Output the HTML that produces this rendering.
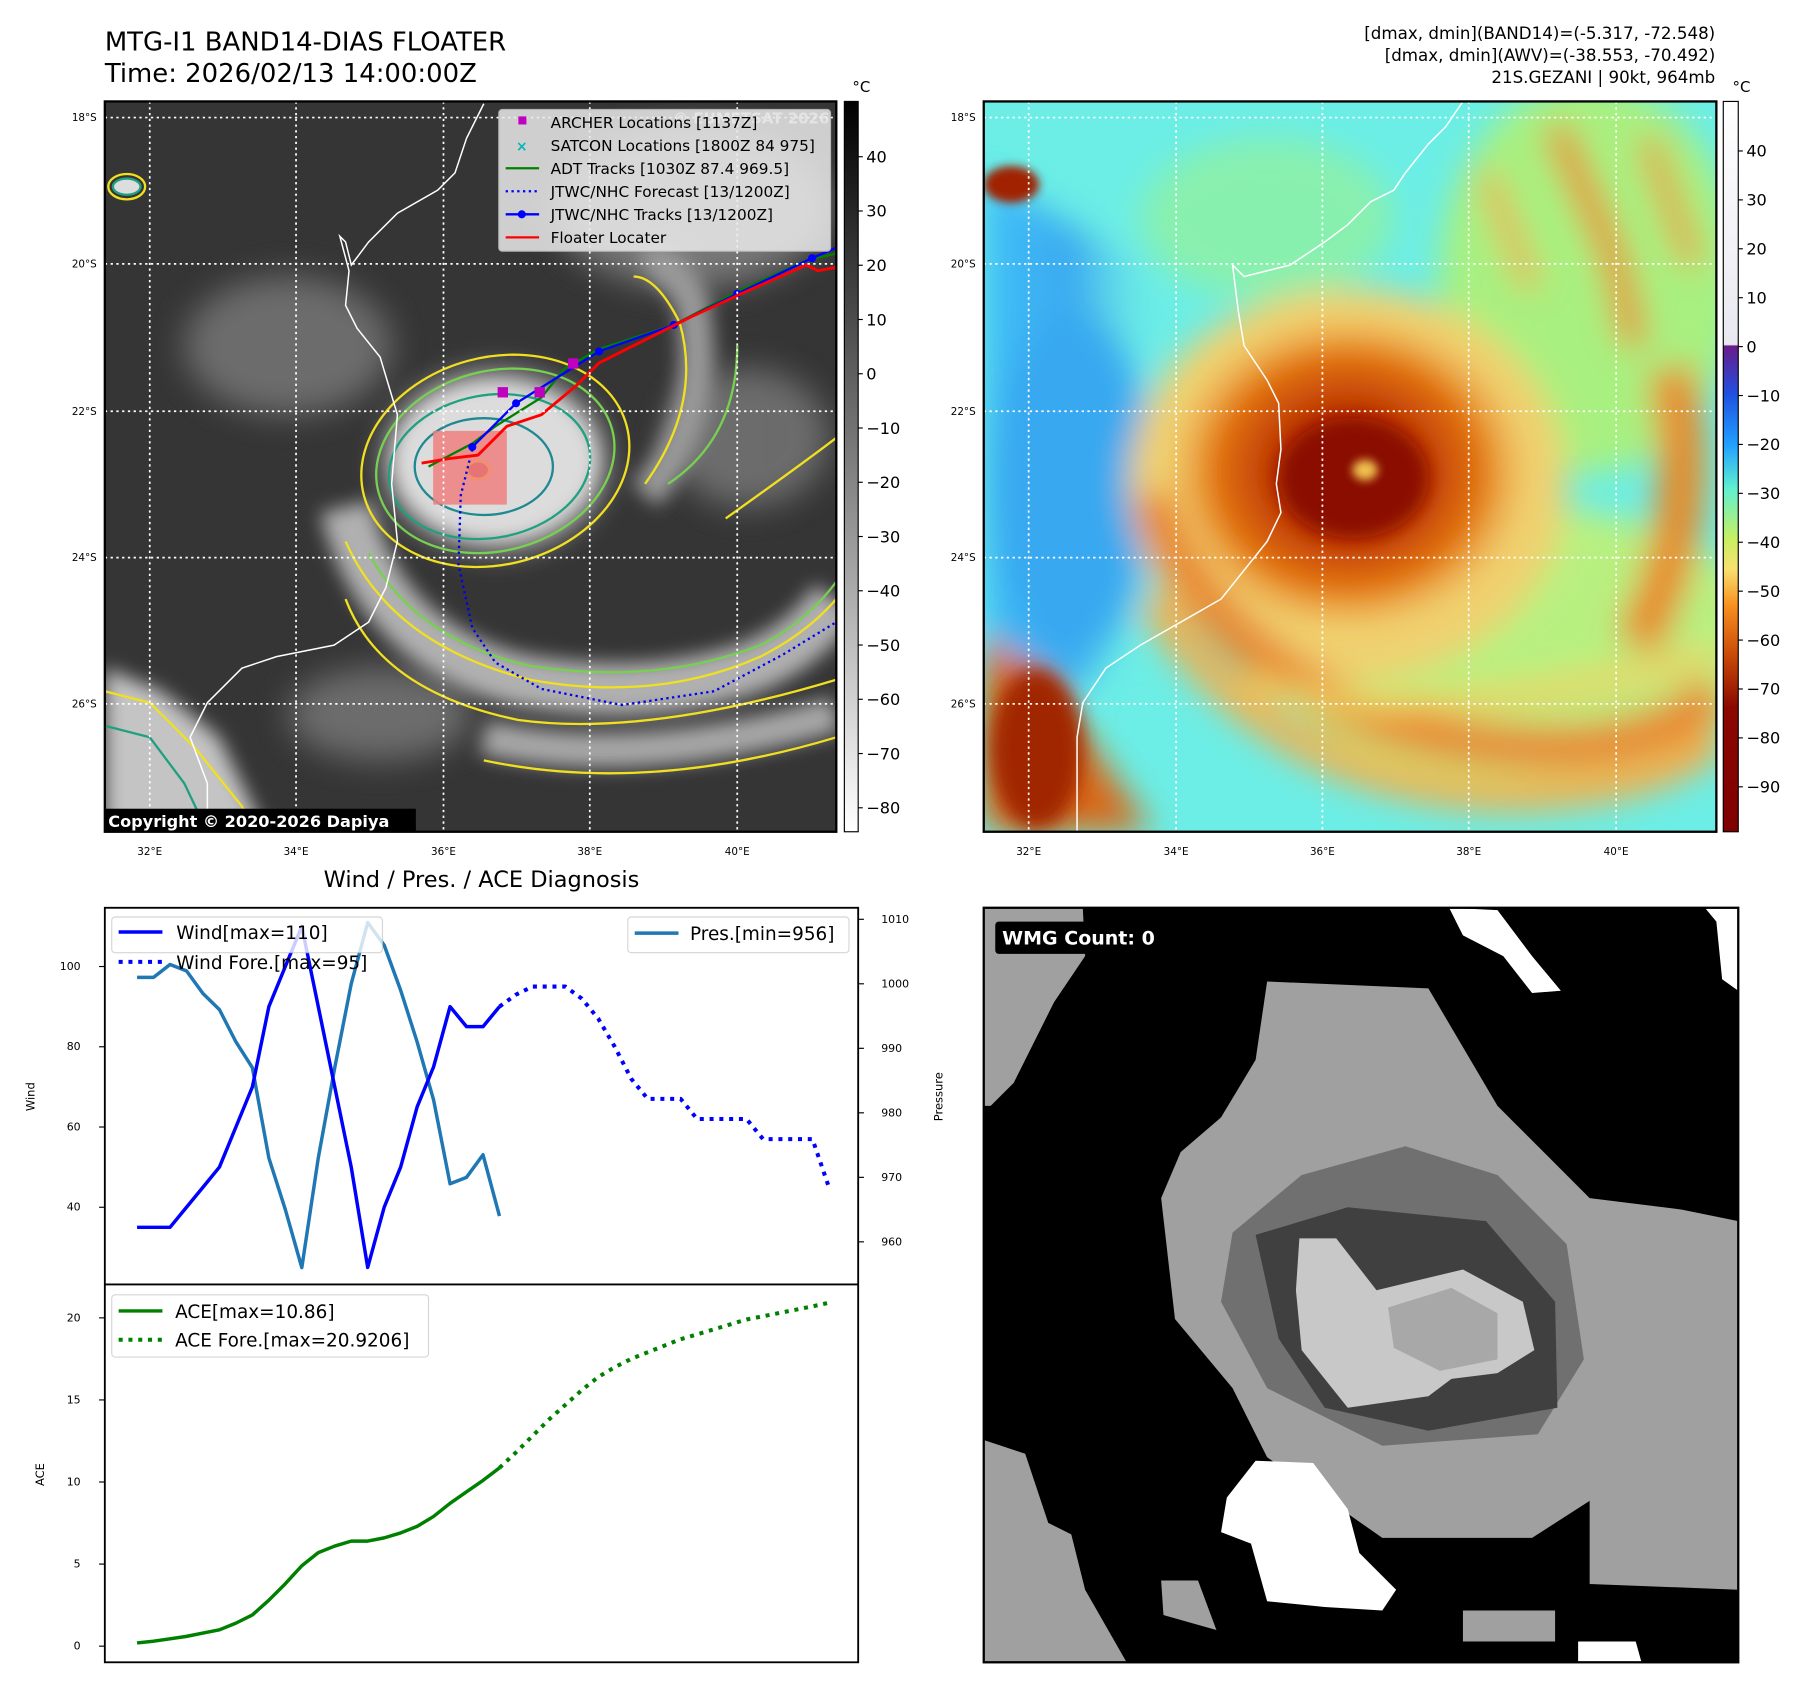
<!DOCTYPE html>
<html><head><meta charset="utf-8"><style>
html,body{margin:0;padding:0;background:#fff;}
svg{display:block;font-family:"DejaVu Sans","Liberation Sans",sans-serif;}
</style></head><body>
<svg id="fig" width="1797" height="1690" viewBox="0 0 1560 1467" xmlns="http://www.w3.org/2000/svg">
<defs>
<filter id="b8" x="-50%" y="-50%" width="200%" height="200%"><feGaussianBlur stdDeviation="8"/></filter>
<filter id="b4" x="-50%" y="-50%" width="200%" height="200%"><feGaussianBlur stdDeviation="4"/></filter>
<filter id="b14" x="-50%" y="-50%" width="200%" height="200%"><feGaussianBlur stdDeviation="14"/></filter>
<clipPath id="cL"><rect x="91" y="88" width="635" height="634"/></clipPath>
<clipPath id="cR"><rect x="854" y="88" width="636" height="634"/></clipPath>
<clipPath id="cW"><rect x="854" y="788" width="655" height="655"/></clipPath>
<linearGradient id="gcb1" x1="0" y1="0" x2="0" y2="1"><stop offset="0" stop-color="#000"/><stop offset="1" stop-color="#fff"/></linearGradient>
<linearGradient id="gcb2" x1="0" y1="0" x2="0" y2="1">
<stop offset="0" stop-color="#fff"/><stop offset="0.333" stop-color="#e8e8f0"/>
<stop offset="0.335" stop-color="#6a1a8a"/><stop offset="0.40" stop-color="#2050e0"/>
<stop offset="0.47" stop-color="#20a0ff"/><stop offset="0.53" stop-color="#60f0d0"/>
<stop offset="0.60" stop-color="#c8f060"/><stop offset="0.64" stop-color="#f8e070"/>
<stop offset="0.69" stop-color="#f89020"/><stop offset="0.76" stop-color="#c84808"/>
<stop offset="0.83" stop-color="#8a0800"/><stop offset="1" stop-color="#800000"/></linearGradient>
<radialGradient id="rgL" cx="0.5" cy="0.5" r="0.5"><stop offset="0" stop-color="#f0f0f0"/><stop offset="0.6" stop-color="#d0d0d0"/><stop offset="1" stop-color="#909090" stop-opacity="0"/></radialGradient>
<radialGradient id="rgR" cx="0.5" cy="0.5" r="0.5"><stop offset="0" stop-color="#8a1000"/><stop offset="0.35" stop-color="#b83000"/><stop offset="0.7" stop-color="#e07010"/><stop offset="1" stop-color="#f0a040" stop-opacity="0"/></radialGradient>
<linearGradient id="gblue" x1="0" y1="0" x2="1" y2="0"><stop offset="0" stop-color="#40c0f8"/><stop offset="0.5" stop-color="#3aa8f0"/><stop offset="1" stop-color="#70e8e8" stop-opacity="0"/></linearGradient>
</defs>

<text x="91" y="44" font-size="22.5">MTG-I1 BAND14-DIAS FLOATER</text>
<text x="91" y="71" font-size="22.5">Time: 2026/02/13 14:00:00Z</text>
<g font-size="14.5" text-anchor="end">
<text x="1489" y="34">[dmax, dmin](BAND14)=(-5.317, -72.548)</text>
<text x="1489" y="53">[dmax, dmin](AWV)=(-38.553, -70.492)</text>
<text x="1489" y="72">21S.GEZANI | 90kt, 964mb</text>
</g>

<g clip-path="url(#cL)">
<rect x="91" y="88" width="635" height="634" fill="#353535"/>
<g filter="url(#b14)" fill="#7a7a7a" opacity="0.8">
<ellipse cx="250" cy="300" rx="90" ry="60"/><ellipse cx="600" cy="180" rx="120" ry="70" fill="#888"/>
<ellipse cx="650" cy="380" rx="70" ry="60"/><ellipse cx="330" cy="620" rx="80" ry="40"/>
</g>
<g filter="url(#b8)">
<path d="M300,440 Q330,560 450,590 Q560,610 650,580 Q700,560 726,520" stroke="#b0b0b0" stroke-width="45" fill="none"/>
<path d="M420,640 Q550,670 726,620" stroke="#a8a8a8" stroke-width="30" fill="none"/>
<path d="M560,430 Q620,360 600,260 Q580,220 560,230" stroke="#999" stroke-width="30" fill="none"/>
<path d="M91,580 L140,600 L190,640 L230,722 L91,722 Z" fill="#c4c4c4"/>
<ellipse cx="430" cy="400" rx="115" ry="95" fill="url(#rgL)"/>
<ellipse cx="430" cy="400" rx="90" ry="70" fill="#dcdcdc"/>
</g>
<g fill="none" stroke-width="2">
<ellipse cx="430" cy="400" rx="118" ry="90" stroke="#f0e020" transform="rotate(-15 430 400)"/>
<ellipse cx="430" cy="400" rx="105" ry="78" stroke="#78d050" transform="rotate(-15 430 400)"/>
<ellipse cx="425" cy="405" rx="88" ry="62" stroke="#20a080" transform="rotate(-10 425 405)"/>
<ellipse cx="420" cy="405" rx="60" ry="42" stroke="#208890"/>
<path d="M300,470 Q340,560 460,590 Q570,610 660,570 Q700,550 726,520" stroke="#f0e020"/>
<path d="M320,480 Q360,555 460,578 Q570,595 660,560 Q700,540 726,505" stroke="#78d050"/>
<path d="M300,520 Q330,600 450,625 Q560,640 726,590" stroke="#f0e020"/>
<path d="M420,660 Q560,690 726,640" stroke="#f0e020"/>
<path d="M560,420 Q610,350 590,280 Q570,240 550,240" stroke="#f0e020"/>
<path d="M580,420 Q640,380 640,300" stroke="#78d050"/>
<path d="M630,450 Q700,400 726,380" stroke="#f0e020"/>
<path d="M91,600 L130,610 L170,650 L210,700 L220,722" stroke="#f0e020"/>
<path d="M91,630 L130,640 L160,680 L180,722" stroke="#20a080"/>
<ellipse cx="110" cy="162" rx="16" ry="11" stroke="#f0e020"/><ellipse cx="110" cy="162" rx="12" ry="7" stroke="#20a080" fill="#ddd"/>
</g>
<ellipse cx="415" cy="408" rx="10" ry="8" fill="#b03030" stroke="#f0e020" stroke-width="3"/>
<polyline points="420,90 405,120 395,150 380,165 345,185 320,210 305,230 300,210 295,205 303,235 300,265 310,285 330,310 345,360 340,420 345,470 335,510 320,540 290,560 240,570 210,580 180,610 165,640 180,680 180,722" fill="none" stroke="#fff" stroke-width="1.3"/>
<rect x="376" y="374" width="64" height="64" fill="#f08080" opacity="0.85"/>
<polyline points="410,390 400,430 398,490 410,545 430,575 470,598 540,612 620,600 680,568 726,540" fill="none" stroke="#0000ee" stroke-width="2" stroke-dasharray="2,3"/>
<polyline points="372,405 410,385 430,370 470,345 490,320 520,303 585,282 640,253 700,226 726,220" fill="none" stroke="#008000" stroke-width="2"/>
<polyline points="410,388 448,350 520,305 585,282 640,255 705,224 726,215" fill="none" stroke="#0000ff" stroke-width="2"/>
<g fill="#0000ff"><circle cx="410" cy="388" r="3.5"/><circle cx="448" cy="350" r="3.5"/><circle cx="520" cy="305" r="3.5"/><circle cx="585" cy="282" r="3.5"/><circle cx="640" cy="255" r="3.5"/><circle cx="705" cy="224" r="3.5"/></g>
<polyline points="366,402 390,398 415,395 440,370 470,360 500,335 520,315 560,295 600,275 650,252 700,230 710,235 726,232" fill="none" stroke="#ff0000" stroke-width="2.5"/>
<g fill="#c000c0"><rect x="432" y="336" width="9" height="9"/><rect x="464" y="336" width="9" height="9"/><rect x="493" y="311" width="9" height="9"/></g>
<g stroke="#fff" stroke-width="1.5" stroke-dasharray="2,3">
<line x1="130" y1="88" x2="130" y2="722"/><line x1="257" y1="88" x2="257" y2="722"/><line x1="385" y1="88" x2="385" y2="722"/><line x1="512" y1="88" x2="512" y2="722"/><line x1="640" y1="88" x2="640" y2="722"/>
<line x1="91" y1="102" x2="726" y2="102"/><line x1="91" y1="229" x2="726" y2="229"/><line x1="91" y1="357" x2="726" y2="357"/><line x1="91" y1="484" x2="726" y2="484"/><line x1="91" y1="611" x2="726" y2="611"/>
</g>
<text x="720" y="107" font-size="13" font-weight="bold" fill="#fff" opacity="0.7" text-anchor="end">© EUMETSAT 2026</text>
<g>
<rect x="433" y="95" width="288" height="123" rx="3" fill="#eaeaea" opacity="0.85" stroke="#ccc"/>
<g font-size="13.3">
<rect x="450" y="101" width="7" height="7" fill="#c000c0"/><text x="478" y="111">ARCHER Locations [1137Z]</text>
<text x="448" y="131" fill="#00b8b8" font-size="12" font-weight="bold">×</text><text x="478" y="131">SATCON Locations [1800Z 84 975]</text>
<line x1="439" y1="146" x2="468" y2="146" stroke="#008000" stroke-width="2"/><text x="478" y="151">ADT Tracks [1030Z 87.4 969.5]</text>
<line x1="439" y1="166" x2="468" y2="166" stroke="#0000ff" stroke-width="2" stroke-dasharray="2,3"/><text x="478" y="171">JTWC/NHC Forecast [13/1200Z]</text>
<line x1="439" y1="186" x2="468" y2="186" stroke="#0000ff" stroke-width="2"/><circle cx="453" cy="186" r="3.5" fill="#0000ff"/><text x="478" y="191">JTWC/NHC Tracks [13/1200Z]</text>
<line x1="439" y1="206" x2="468" y2="206" stroke="#ff0000" stroke-width="2"/><text x="478" y="211">Floater Locater</text>
</g></g>
<rect x="89" y="702" width="272" height="21" fill="#000"/>
<text x="94" y="718" font-size="14" font-weight="bold" fill="#fff">Copyright © 2020-2026 Dapiya</text>
</g>
<rect x="91" y="88" width="635" height="634" fill="none" stroke="#000" stroke-width="2"/>
<g font-size="9" text-anchor="end">
<text x="84" y="105">18°S</text><text x="84" y="232">20°S</text><text x="84" y="360">22°S</text><text x="84" y="487">24°S</text><text x="84" y="614">26°S</text></g>
<g font-size="9" text-anchor="middle">
<text x="130" y="742">32°E</text><text x="257" y="742">34°E</text><text x="385" y="742">36°E</text><text x="512" y="742">38°E</text><text x="640" y="742">40°E</text></g>

<g>
<text x="740" y="80" font-size="13">°C</text>
<rect x="733" y="88" width="12" height="634" fill="url(#gcb1)" stroke="#000" stroke-width="1"/>
<g font-size="14" id="cb1lab"></g>
</g>

<g clip-path="url(#cR)">
<rect x="854" y="88" width="636" height="634" fill="#6ceee6"/>
<g filter="url(#b14)">
<path d="M854,150 L990,230 L1010,380 L1000,520 L940,600 L854,560 Z" fill="url(#gblue)"/>
<ellipse cx="930" cy="420" rx="70" ry="150" fill="#38a8f0"/>
<ellipse cx="1100" cy="190" rx="110" ry="70" fill="#90f0a0" opacity="0.8"/>
<ellipse cx="1380" cy="240" rx="130" ry="170" fill="#a8f080"/>
<ellipse cx="1320" cy="560" rx="220" ry="120" fill="#b8f080"/>
<ellipse cx="1170" cy="420" rx="190" ry="170" fill="#f0d070"/>
<path d="M1350,110 L1400,220 L1420,300" stroke="#e88828" stroke-width="22" fill="none"/>
<path d="M1430,120 L1470,230" stroke="#e89838" stroke-width="18" fill="none"/>
<path d="M1290,150 L1330,250" stroke="#f0a848" stroke-width="16" fill="none"/>
<path d="M1000,430 Q1060,600 1250,640 Q1420,670 1490,600" stroke="#e88830" stroke-width="38" fill="none"/>
<path d="M1000,520 Q1100,680 1300,690 Q1440,690 1490,640" stroke="#f0b050" stroke-width="28" fill="none"/>
<path d="M1080,590 Q1200,640 1490,570" stroke="#f0d060" stroke-width="18" fill="none"/>
<path d="M1450,320 Q1480,450 1420,560" stroke="#e88828" stroke-width="40" fill="none"/>
<path d="M854,550 L900,580 L950,650 L1000,722 L854,722 Z" fill="#d86818"/>
</g>
<ellipse cx="1170" cy="410" rx="160" ry="140" fill="url(#rgR)" filter="url(#b8)"/>
<ellipse cx="1175" cy="415" rx="65" ry="52" fill="#8a1000" filter="url(#b8)"/>
<ellipse cx="1185" cy="408" rx="11" ry="9" fill="#f0c050" filter="url(#b4)"/>
<ellipse cx="878" cy="160" rx="24" ry="16" fill="#a02000" filter="url(#b4)"/>
<ellipse cx="900" cy="650" rx="40" ry="70" fill="#a02800" filter="url(#b8)"/>
<polyline points="1270,88 1255,110 1240,125 1220,150 1210,165 1190,175 1170,195 1150,210 1120,230 1080,240 1070,230 1075,270 1080,300 1100,330 1110,350 1112,390 1108,420 1112,445 1100,470 1060,520 990,560 960,580 940,610 935,640 935,722" fill="none" stroke="#fff" stroke-width="1.3"/>
<g stroke="#fff" stroke-width="1.5" stroke-dasharray="2,3">
<line x1="893" y1="88" x2="893" y2="722"/><line x1="1021" y1="88" x2="1021" y2="722"/><line x1="1148" y1="88" x2="1148" y2="722"/><line x1="1275" y1="88" x2="1275" y2="722"/><line x1="1403" y1="88" x2="1403" y2="722"/>
<line x1="854" y1="102" x2="1490" y2="102"/><line x1="854" y1="229" x2="1490" y2="229"/><line x1="854" y1="357" x2="1490" y2="357"/><line x1="854" y1="484" x2="1490" y2="484"/><line x1="854" y1="611" x2="1490" y2="611"/>
</g>
</g>
<rect x="854" y="88" width="636" height="634" fill="none" stroke="#000" stroke-width="2"/>
<g font-size="9" text-anchor="end"><text x="847" y="105">18°S</text><text x="847" y="232">20°S</text><text x="847" y="360">22°S</text><text x="847" y="487">24°S</text><text x="847" y="614">26°S</text></g>
<g font-size="9" text-anchor="middle"><text x="893" y="742">32°E</text><text x="1021" y="742">34°E</text><text x="1148" y="742">36°E</text><text x="1275" y="742">38°E</text><text x="1403" y="742">40°E</text></g>
<g>
<text x="1504" y="80" font-size="13">°C</text>
<rect x="1496" y="88" width="13" height="634" fill="url(#gcb2)" stroke="#000" stroke-width="1"/>
<g font-size="14" id="cb2lab"></g>
</g>

<g clip-path="url(#cW)">
<rect x="854" y="788" width="655" height="655" fill="#000"/>
<polygon fill="#a0a0a0" points="854,788 940,788 942,830 915,870 880,940 860,960 854,960"/>
<polygon fill="#a0a0a0" points="1100,852 1240,858 1300,960 1380,1040 1460,1050 1509,1060 1509,1270 1400,1290 1330,1335 1200,1335 1100,1265 1070,1205 1020,1145 1008,1040 1025,1000 1060,970 1090,920"/>
<polygon fill="#707070" points="1070,1070 1130,1020 1220,995 1300,1020 1360,1080 1375,1180 1335,1245 1200,1255 1100,1205 1060,1130"/>
<polygon fill="#404040" points="1090,1072 1170,1048 1290,1060 1350,1130 1352,1222 1240,1242 1150,1222 1110,1162"/>
<polygon fill="#c8c8c8" points="1128,1075 1160,1075 1195,1120 1270,1102 1322,1130 1332,1172 1300,1192 1260,1197 1240,1212 1170,1222 1130,1172 1125,1120"/>
<polygon fill="#a8a8a8" points="1205,1135 1260,1118 1300,1140 1300,1180 1250,1190 1210,1170"/>
<polygon fill="#a0a0a0" points="1380,1080 1509,1060 1509,1380 1380,1375"/>
<polygon fill="#fff" points="1090,1268 1140,1270 1170,1310 1180,1348 1212,1380 1200,1398 1150,1395 1100,1390 1086,1340 1060,1330 1065,1300"/>
<polygon fill="#fff" points="1258,788 1300,790 1330,830 1355,860 1330,862 1305,830 1270,812"/>
<polygon fill="#fff" points="1480,788 1509,788 1509,860 1495,850 1490,800"/>
<polygon fill="#a0a0a0" points="854,1250 890,1262 910,1322 930,1332 942,1380 978,1443 854,1443"/>
<polygon fill="#a0a0a0" points="1270,1398 1350,1398 1350,1425 1270,1425"/>
<polygon fill="#a0a0a0" points="1008,1372 1040,1372 1056,1415 1010,1402"/>
<polygon fill="#fff" points="1370,1425 1420,1425 1425,1443 1370,1443"/>
<rect x="864" y="800" width="158" height="28" rx="3" fill="#000"/>
<text x="870" y="820" font-size="16.5" font-weight="bold" fill="#fff">WMG Count: 0</text>
</g>
<rect x="854" y="788" width="655" height="655" fill="none" stroke="#000" stroke-width="2"/>

<text x="418" y="770" font-size="19.5" text-anchor="middle">Wind / Pres. / ACE Diagnosis</text>
<g id="diag"></g>
<rect x="91" y="788" width="654" height="655" fill="none" stroke="#000" stroke-width="1.6"/>
<line x1="91" y1="1115" x2="745" y2="1115" stroke="#000" stroke-width="1.6"/>
<text transform="translate(30,952) rotate(-90)" font-size="10" text-anchor="middle">Wind</text>
<text transform="translate(818,952) rotate(-90)" font-size="10" text-anchor="middle">Pressure</text>
<text transform="translate(38,1280) rotate(-90)" font-size="10" text-anchor="middle">ACE</text>

<g>
<rect x="97" y="796" width="235" height="31" rx="3" fill="#fff" opacity="0.8" stroke="#ccc"/>
<line x1="103" y1="809" x2="141" y2="809" stroke="#0000ff" stroke-width="3"/><text x="153" y="815" font-size="16">Wind[max=110]</text>
<line x1="103" y1="835" x2="141" y2="835" stroke="#0000ff" stroke-width="3.5" stroke-dasharray="3.5,5"/><text x="153" y="841" font-size="16">Wind Fore.[max=95]</text>
</g>
<g>
<rect x="545" y="796" width="192" height="31" rx="3" fill="#fff" opacity="0.8" stroke="#ccc"/>
<line x1="551" y1="810" x2="589" y2="810" stroke="#1f77b4" stroke-width="3"/><text x="599" y="816" font-size="16">Pres.[min=956]</text>
</g>
<g>
<rect x="97" y="1124" width="275" height="54" rx="3" fill="#fff" opacity="0.8" stroke="#ccc"/>
<line x1="103" y1="1138" x2="141" y2="1138" stroke="#008000" stroke-width="3"/><text x="152" y="1144" font-size="16">ACE[max=10.86]</text>
<line x1="103" y1="1163" x2="141" y2="1163" stroke="#008000" stroke-width="3.5" stroke-dasharray="3.5,5"/><text x="152" y="1169" font-size="16">ACE Fore.[max=20.9206]</text>
</g>
</svg>
<script>
const windObs=[35,35,35,40,45,50,60,70,90,100,110,90,70,50,25,40,50,65,75,90,85,85,90];
const windFore=[90,93,95,95,95,92,87,80,72,67,67,67,62,62,62,62,57,57,57,57,45];
const presObs=[1001,1001,1003,1002,998.5,996,991,987,973,965,956,973,987,1000,1009.5,1006,999,991,982,969,970,973.5,964];
const aceObs=[0.2,0.3,0.45,0.6,0.8,1.0,1.4,1.9,2.8,3.8,4.9,5.7,6.1,6.4,6.4,6.6,6.9,7.3,7.9,8.7,9.4,10.1,10.86];
const aceFore=[10.86,11.8,12.8,13.8,14.7,15.6,16.4,17.0,17.5,17.9,18.3,18.7,19.0,19.3,19.6,19.9,20.1,20.3,20.5,20.7,20.92];
const windTicks=[40,60,80,100];
const presTicks=[960,970,980,990,1000,1010];
const aceTicks=[0,5,10,15,20];
const cb1Ticks=[40,30,20,10,0,-10,-20,-30,-40,-50,-60,-70,-80];
const cb2Ticks=[40,30,20,10,0,-10,-20,-30,-40,-50,-60,-70,-80,-90];
const foreStart=22;

const NS='http://www.w3.org/2000/svg';
const xI=i=>119+i*14.3;
const yW=v=>839-(v-100)*3.483;
const yP=p=>854-(p-1000)*5.6;
const yA=a=>1429-a*14.25;
const yCb1=v=>136+(40-v)*4.71;
const yCb2=v=>131+(40-v)*4.246;
const g=document.getElementById('diag');
function el(tag,attrs,parent){const e=document.createElementNS(NS,tag);for(const k in attrs)e.setAttribute(k,attrs[k]);(parent||g).appendChild(e);return e;}
function line(vals,off,fy,color,w,dash,name){
  const pts=vals.map((v,i)=>xI(i+off).toFixed(1)+','+fy(v).toFixed(1)).join(' ');
  const p=el('polyline',{points:pts,fill:'none',stroke:color,'stroke-width':w,'stroke-linejoin':'round'});
  if(dash)p.setAttribute('stroke-dasharray',dash);
  
  
}
function tick(x1,y,x2,label,tx,anchor,size){
  el('line',{x1:x1,y1:y,x2:x2,y2:y,stroke:'#000','stroke-width':1});
  const t=el('text',{x:tx,y:y+3,'font-size':size,'text-anchor':anchor});
  t.textContent=label;
  
  
}
windTicks.forEach(v=>tick(86,yW(v),91,v,70,'end',9.5));
presTicks.forEach(v=>tick(745,yP(v),750,v,765,'start',9.5));
aceTicks.forEach(v=>tick(86,yA(v),91,v,70,'end',9.5));
line(presObs,0,yP,'#1f77b4',3,null,'pressure-line');
line(windObs,0,yW,'#0000ff',3,null,'wind-line');
line(windFore,foreStart,yW,'#0000ff',3.5,'3.5,5','wind-forecast-line');
line(aceObs,0,yA,'#008000',3,null,'ace-line');
line(aceFore,foreStart,yA,'#008000',3.5,'3.5,5','ace-forecast-line');
const fmt=v=>v<0?'\u2212'+(-v):String(v);
const c1=document.getElementById('cb1lab');
cb1Ticks.forEach(v=>{
  el('line',{x1:745,y1:yCb1(v),x2:749,y2:yCb1(v),stroke:'#000'},c1);
  const t=el('text',{x:752,y:yCb1(v)+5},c1);t.textContent=fmt(v);
  
  
});
const c2=document.getElementById('cb2lab');
cb2Ticks.forEach(v=>{
  el('line',{x1:1509,y1:yCb2(v),x2:1513,y2:yCb2(v),stroke:'#000'},c2);
  const t=el('text',{x:1516,y:yCb2(v)+5},c2);t.textContent=fmt(v);
  
  
});
</script>
</body></html>
